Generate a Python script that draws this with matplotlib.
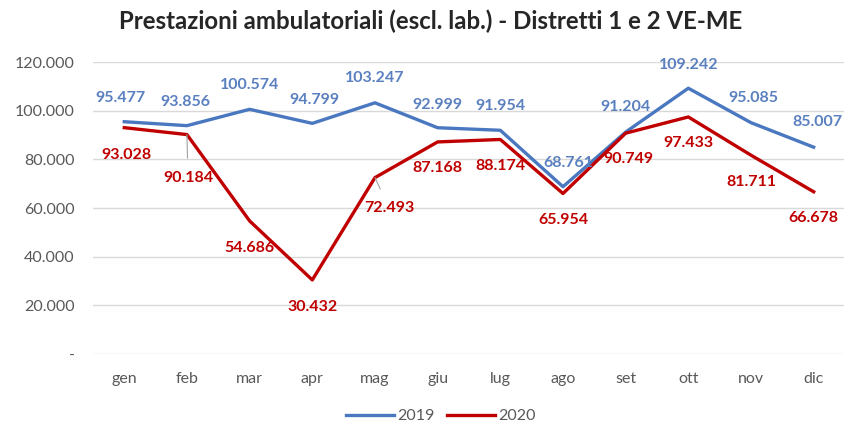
import matplotlib
matplotlib.use("Agg")
import matplotlib.pyplot as plt
from matplotlib.ticker import FuncFormatter

months = ["gen", "feb", "mar", "apr", "mag", "giu", "lug", "ago", "set", "ott", "nov", "dic"]
val_2019 = [95477, 93856, 100574, 94799, 103247, 92999, 91954, 68761, 91204, 109242, 95085, 85007]
val_2020 = [93028, 90184, 54686, 30432, 72493, 87168, 88174, 65954, 90749, 97433, 81711, 66678]

# label offsets in pixels (dx, dy), dy positive = down
off_2019 = [(-4, -24), (-2, -24), (0, -24), (2, -23), (0, -25), (0, -23),
            (0, -24), (5, -24), (0, -25), (0, -23), (2, -25), (4, -25)]
off_2020 = [(2, 27), (1, 43), (0, 27), (0, 27), (14, 30), (0, 26),
            (0, 27), (0, 26), (3, 26), (0, 26), (0, 27), (0, 26)]

blue = '#4A78C0'
red = '#C00000'
plt.rcParams['font.family'] = ['Lato', 'DejaVu Sans']


def fmt(v, pos=None):
    if v == 0:
        return '-'
    return f"{int(v):,}".replace(",", ".")


fig = plt.figure(figsize=(8.45, 4.28), dpi=100)
ax = fig.add_axes([0.110, 0.173, 0.890, 0.682])
x = list(range(len(months)))

ax.plot(x, val_2019, color=blue, linewidth=2.4, label='2019', zorder=3)
ax.plot(x, val_2020, color=red, linewidth=2.4, label='2020', zorder=4)

px = 0.72  # points per pixel at dpi 100
for i, v in enumerate(val_2019):
    dx, dy = off_2019[i]
    ax.annotate(fmt(v), (i, v), xytext=(dx * px, -dy * px), textcoords='offset points',
                ha='center', va='center', fontsize=11.5, fontweight='bold', color='#5B80C0', zorder=5)
for i, v in enumerate(val_2020):
    dx, dy = off_2020[i]
    lead = abs(dy) > 28
    ax.annotate(fmt(v), (i, v), xytext=(dx * px, -dy * px), textcoords='offset points',
                ha='center', va='center', fontsize=11.5, fontweight='bold', color=red, zorder=5,
                arrowprops=dict(arrowstyle='-', color='#A0A0A0', lw=0.8, shrinkA=7, shrinkB=0) if lead else None)

ax.set_xlim(-0.5, len(months) - 0.5)
ax.set_ylim(0, 120000)
ax.set_yticks(range(0, 120001, 20000))
ax.yaxis.set_major_formatter(FuncFormatter(fmt))
ax.set_xticks(x)
ax.set_xticklabels(months)
ax.grid(axis='y', color='#D9D9D9', linewidth=1)
ax.set_axisbelow(True)
for s in ax.spines.values():
    s.set_visible(False)
ax.tick_params(axis='both', length=0, labelsize=11.5, colors='#595959')
ax.tick_params(axis='x', pad=13)
ax.tick_params(axis='y', pad=13)

fig.suptitle('Prestazioni ambulatoriali (escl. lab.) - Distretti 1 e 2 VE-ME', x=0.51, y=0.978,
             fontsize=17.3, fontweight='bold', color='#262626')
ax.legend(loc='upper center', bbox_to_anchor=(0.463, -0.14), ncol=2, frameon=False,
          fontsize=11.5, handlelength=3, columnspacing=0.8, handletextpad=0.2, labelcolor='#595959')

fig.savefig('out.png', dpi=100)
